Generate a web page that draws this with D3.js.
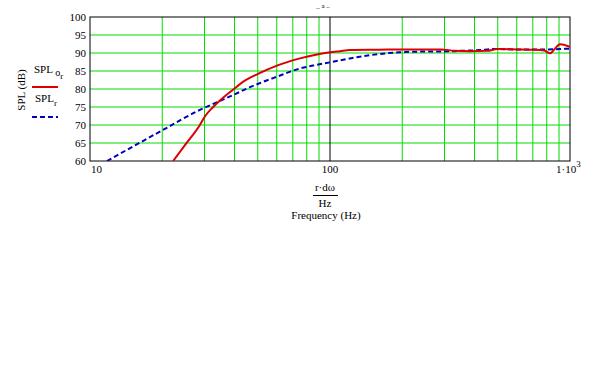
<!DOCTYPE html>
<html><head><meta charset="utf-8">
<script src="https://cdn.jsdelivr.net/npm/d3@7"></script>
<style>body{margin:0;background:#fff}svg{display:block}text{font-family:"Liberation Serif","Times New Roman",serif;fill:#000}</style>
</head><body>
<script>
const freqRed = [22.2, 25, 28.7, 30.2, 32.6, 34.8, 39.4, 43.4, 50.1, 60.1, 75, 88.3, 100, 110, 121, 160, 200, 250, 290, 330, 383, 451, 500, 600, 700, 780, 826, 860, 908, 1000];
const splRed  = [60, 64.6, 70, 72.5, 75.0, 76.8, 79.8, 82.0, 84.2, 86.5, 88.5, 89.6, 90.2, 90.5, 90.8, 90.9, 91.0, 91.0, 91.0, 90.6, 90.5, 90.6, 91.1, 91.0, 90.9, 90.7, 89.9, 91.0, 92.4, 91.7];
const freqBlue = [11.77, 20.1, 28.7, 34.3, 39.4, 46.4, 60, 75, 88, 100, 121, 147, 195, 250, 290, 350, 420, 480, 600, 700, 800, 900, 1000];
const splBlue  = [60, 68.6, 74.2, 76.5, 78.3, 80.5, 83.4, 85.7, 86.7, 87.4, 88.5, 89.4, 90.2, 90.4, 90.4, 90.6, 90.8, 91.1, 91.0, 91.0, 91.0, 91.1, 91.2];
const yTicks = [60, 65, 70, 75, 80, 85, 90, 95, 100];
const xMinor = [20, 30, 40, 50, 60, 70, 80, 90, 200, 300, 400, 500, 600, 700, 800, 900];

const W = 592, H = 384;
const svg = d3.select("body").append("svg").attr("width", W).attr("height", H);
const x = d3.scaleLog().domain([10, 1000]).range([90, 570]);
const y = d3.scaleLinear().domain([60, 100]).range([161, 17]);

// grid
const grid = svg.append("g").attr("stroke", "#00dd00").attr("stroke-width", 1);
xMinor.forEach(f => grid.append("line").attr("x1", x(f)).attr("x2", x(f)).attr("y1", y(60)).attr("y2", y(100)));
yTicks.slice(1, -1).forEach(v => grid.append("line").attr("x1", x(10)).attr("x2", x(1000)).attr("y1", y(v)).attr("y2", y(v)));
svg.append("line").attr("x1", x(100)).attr("x2", x(100)).attr("y1", y(60)).attr("y2", y(100)).attr("stroke", "#000");
svg.append("rect").attr("x", x(10)).attr("y", y(100)).attr("width", x(1000) - x(10)).attr("height", y(60) - y(100))
  .attr("fill", "none").attr("stroke", "#000").attr("stroke-width", 1);

// clip
svg.append("clipPath").attr("id", "clip").append("rect")
  .attr("x", x(10)).attr("y", y(100)).attr("width", x(1000) - x(10)).attr("height", y(60) - y(100));

const line = d3.line().x(d => x(d[0])).y(d => y(d[1])).curve(d3.curveMonotoneX);
const g = svg.append("g").attr("clip-path", "url(#clip)");
g.append("path").datum(freqBlue.map((f, i) => [f, splBlue[i]])).attr("d", line)
  .attr("fill", "none").attr("stroke", "#0000c0").attr("stroke-width", 2).attr("stroke-dasharray", "5,3");
g.append("path").datum(freqRed.map((f, i) => [f, splRed[i]])).attr("d", line)
  .attr("fill", "none").attr("stroke", "#dd0000").attr("stroke-width", 2);

// y tick labels
yTicks.forEach(v => svg.append("text").attr("x", 86).attr("y", y(v) + 4).attr("text-anchor", "end")
  .attr("font-size", 11).text(v));
// x tick labels
svg.append("text").attr("x", 91).attr("y", 173).attr("font-size", 11).text("10");
svg.append("text").attr("x", x(100)).attr("y", 173).attr("text-anchor", "middle").attr("font-size", 11).text("100");
const t3 = svg.append("text").attr("x", 556).attr("y", 173).attr("font-size", 11);
t3.append("tspan").text("1·10");
t3.append("tspan").attr("dy", -6).attr("font-size", 9).text("3");

// x axis label
svg.append("text").attr("x", 325).attr("y", 191).attr("text-anchor", "middle").attr("font-size", 11).text("r·dω");
svg.append("line").attr("x1", 313).attr("x2", 338).attr("y1", 195.5).attr("y2", 195.5).attr("stroke", "#000");
svg.append("text").attr("x", 325).attr("y", 207).attr("text-anchor", "middle").attr("font-size", 11).text("Hz");
svg.append("text").attr("x", 326).attr("y", 219).attr("text-anchor", "middle").attr("font-size", 11).text("Frequency (Hz)");

// y axis label
svg.append("text").attr("transform", "translate(25,90) rotate(-90)").attr("text-anchor", "middle")
  .attr("font-size", 11).text("SPL (dB)");

// legend
const l1 = svg.append("text").attr("x", 34).attr("y", 73).attr("font-size", 11);
l1.append("tspan").text("SPL ");
l1.append("tspan").attr("dy", 3).attr("font-size", 10).text("o");
l1.append("tspan").attr("dy", 3).attr("font-size", 9).text("r");
svg.append("line").attr("x1", 32).attr("x2", 58).attr("y1", 87).attr("y2", 87).attr("stroke", "#dd0000").attr("stroke-width", 2);
const l2 = svg.append("text").attr("x", 35).attr("y", 102).attr("font-size", 11);
l2.append("tspan").text("SPL");
l2.append("tspan").attr("dy", 4).attr("font-size", 9).text("r");
svg.append("line").attr("x1", 32).attr("x2", 58).attr("y1", 117).attr("y2", 117).attr("stroke", "#0000c0")
  .attr("stroke-width", 2).attr("stroke-dasharray", "5,3");

// partially visible top text
svg.append("text").attr("x", 323).attr("y", 8).attr("text-anchor", "middle").attr("font-size", 7).text("_ a ..");
</script>
</body></html>
